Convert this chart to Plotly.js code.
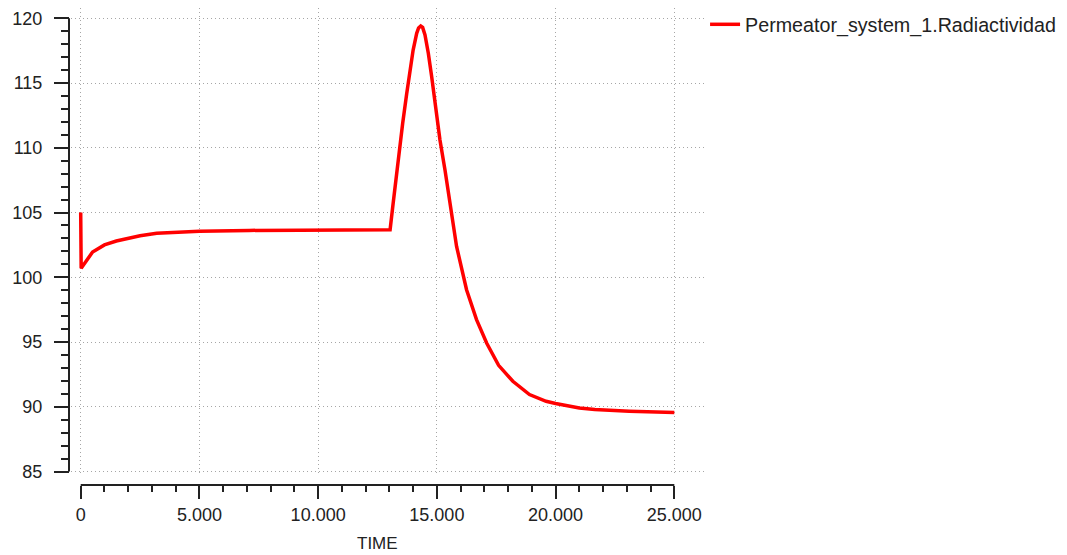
<!DOCTYPE html>
<html>
<head>
<meta charset="utf-8">
<script src="https://cdn.plot.ly/plotly-3.0.1.min.js"></script>
<style>
  html, body { margin: 0; padding: 0; background: #ffffff; }
  #chart { width: 1067px; height: 555px; }
</style>
</head>
<body>
<div id="chart"></div>
<script>
// ---- data ----
const seriesName = "Permeator_system_1.Radiactividad";
const time = [0, 20, 500, 1000, 1500, 2000, 2500, 3200, 3900, 5000, 7100, 10000, 13000,
  13030, 13160, 13300, 13440, 13560, 13730, 13870, 14000, 14150, 14230, 14320, 14400,
  14500, 14640, 14780, 14920, 15130, 15340, 15550, 15830, 16250, 16670, 17100,
  17600, 18200, 18900, 19600, 20000, 21000, 21650, 23100, 25000];
const radiactividad = [105.0, 100.7, 101.95, 102.5, 102.8, 103.0, 103.2, 103.4, 103.48, 103.55, 103.62, 103.66, 103.67,
  103.67, 105.73, 108.0, 109.84, 111.9, 114.2, 116.0, 117.55, 118.84, 119.25, 119.41, 119.3,
  118.71, 117.3, 115.5, 113.44, 110.6, 108.3, 105.73, 102.38, 99.04, 96.73, 94.9,
  93.2, 91.97, 90.94, 90.42, 90.25, 89.91, 89.78, 89.65, 89.55];
const xTickVals = [0, 5000, 10000, 15000, 20000, 25000];
const xMinorVals = [1000, 2000, 3000, 4000, 6000, 7000, 8000, 9000, 11000, 12000, 13000, 14000,
  16000, 17000, 18000, 19000, 21000, 22000, 23000, 24000];
const yTickVals = [85, 90, 95, 100, 105, 110, 115, 120];
const xTitle = "TIME";

const FONT = "Liberation Sans, Arial, sans-serif";
const INK = "#222222";

const trace = {
  x: time,
  y: radiactividad,
  type: "scatter",
  mode: "lines",
  name: seriesName,
  line: { color: "#ff0000", width: 3.5 },
  hoverinfo: "x+y"
};

const layout = {
  width: 1067,
  height: 555,
  paper_bgcolor: "#ffffff",
  plot_bgcolor: "#ffffff",
  separators: ",.",
  margin: { l: 69, r: 362, t: 8, b: 70, pad: 0, autoexpand: false },
  font: { family: FONT, size: 18, color: INK },
  showlegend: true,
  legend: {
    x: 1.0001, xanchor: "left", y: 1.0063, yanchor: "top",
    font: { family: FONT, size: 19.7, color: INK },
    bgcolor: "rgba(0,0,0,0)", borderwidth: 0
  },
  xaxis: {
    domain: [0.003145, 1],
    range: [-408.5, 26292],
    anchor: "free", position: 0,
    tickmode: "array", tickvals: xTickVals,
    tickformat: ",d",
    ticks: "outside", ticklen: 13, tickwidth: 2, tickcolor: INK,
    minor: { tickmode: "array", tickvals: xMinorVals, ticks: "outside", ticklen: 6, tickwidth: 2, tickcolor: INK, showgrid: false },
    showline: false, zeroline: false,
    showgrid: true, gridcolor: "#a6a6a6", gridwidth: 1, griddash: "1px,3px",
    tickfont: { family: FONT, size: 18, color: INK },
    automargin: false
  },
  yaxis: {
    domain: [0.02306, 1],
    range: [84.807, 120.795],
    anchor: "free", position: 0,
    tickmode: "array", tickvals: yTickVals,
    ticks: "outside", ticklen: 15, tickwidth: 2, tickcolor: INK,
    minor: { dtick: 1, tick0: 0, ticks: "outside", ticklen: 8, tickwidth: 2, tickcolor: INK, showgrid: false },
    showline: false, zeroline: false,
    showgrid: true, gridcolor: "#a6a6a6", gridwidth: 1, griddash: "1px,3px",
    tickfont: { family: FONT, size: 18, color: INK },
    ticklabelstandoff: 8,
    automargin: false
  },
  shapes: [
    { type: "line", xref: "x", yref: "paper", x0: xTickVals[0], x1: xTickVals[xTickVals.length - 1], y0: 0, y1: 0,
      line: { color: INK, width: 2 } },
    { type: "line", xref: "paper", yref: "y", x0: 0, x1: 0, y0: yTickVals[0], y1: yTickVals[yTickVals.length - 1],
      line: { color: INK, width: 2 } }
  ],
  annotations: [
    { text: xTitle, xref: "x", yref: "paper", x: (xTickVals[0] + xTickVals[xTickVals.length - 1]) / 2, y: -0.1216,
      xanchor: "center", yanchor: "middle", showarrow: false,
      font: { family: FONT, size: 17, color: INK } }
  ]
};

Plotly.newPlot("chart", [trace], layout, { displayModeBar: false, responsive: false });
</script>
</body>
</html>
